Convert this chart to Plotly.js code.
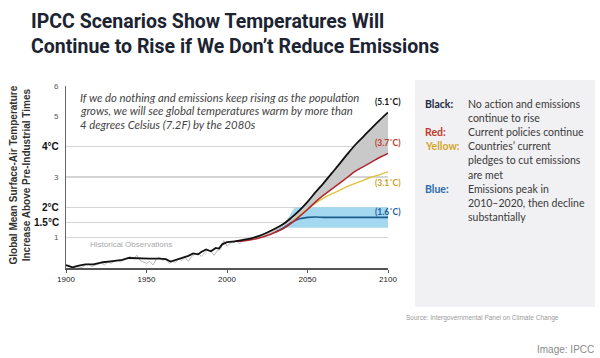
<!DOCTYPE html>
<html>
<head>
<meta charset="utf-8">
<script src="https://cdn.plot.ly/plotly-3.0.1.min.js"></script>
<style>html,body{margin:0;padding:0;background:#fff;}#chart{width:600px;height:358px;}</style>
</head>
<body>
<div id="chart"></div>
<script>
// ---- Data ----
const histYears = [1900,1904,1908,1912,1917,1923,1929,1935,1939,1945,1952,1958,1962,1965,1967,1970,1973,1976,1979,1982,1984,1987,1990,1993,1995,1997,2000,2003,2005];
const histModel = [0.10,0.02,0.08,0.12,0.12,0.19,0.23,0.27,0.33,0.31,0.31,0.31,0.29,0.21,0.24,0.31,0.33,0.40,0.48,0.45,0.53,0.61,0.55,0.66,0.64,0.78,0.85,0.88,0.88];

const obsYears = [1900,1902,1904,1906,1908,1910,1912,1914,1916,1918,1920,1922,1924,1926,1928,1930,1932,1934,1936,1938,1940,1942,1944,1946,1948,1950,1952,1954,1956,1958,1960,1962,1964,1966,1968,1970,1972,1974,1976,1978,1980,1982,1984,1986,1988,1990,1992,1994,1996,1998,2000,2002,2004,2006,2008,2010];
const obsValues = [0.05,0.10,-0.02,0.08,0.00,0.02,0.10,0.14,0.05,0.09,0.13,0.16,0.10,0.20,0.15,0.22,0.26,0.20,0.28,0.33,0.38,0.30,0.42,0.25,0.20,0.15,0.22,0.10,0.28,0.36,0.25,0.30,0.15,0.22,0.18,0.30,0.25,0.35,0.22,0.38,0.45,0.50,0.38,0.48,0.60,0.55,0.42,0.58,0.62,0.90,0.72,0.82,0.85,0.88,0.80,0.92];

const scenYears = [2005,2010,2015,2020,2025,2030,2035,2040,2045,2050,2055,2060,2065,2070,2075,2080,2085,2090,2095,2100];
const blackScen = [0.88,0.93,0.98,1.06,1.17,1.30,1.45,1.66,1.90,2.18,2.50,2.80,3.12,3.44,3.77,4.08,4.35,4.62,4.88,5.13];
const redScen   = [0.88,0.89,0.93,0.99,1.07,1.18,1.30,1.48,1.70,1.93,2.18,2.40,2.60,2.80,3.00,3.20,3.35,3.50,3.65,3.78];

const yellowYears = [2040,2045,2050,2055,2060,2065,2070,2075,2080,2085,2090,2095,2100];
const yellowScen  = [1.48,1.72,1.94,2.14,2.30,2.44,2.56,2.70,2.80,2.90,3.00,3.08,3.17];

const blueYears = [2030,2035,2040,2045,2050,2055,2060,2070,2080,2090,2100];
const blueScen  = [1.18,1.32,1.50,1.62,1.67,1.68,1.67,1.67,1.67,1.67,1.67];

const bandYears = [2034,2038,2042,2050,2100];
const bandUpper = [1.35,1.65,2.00,2.00,2.00];
const bandLower = [1.33,1.33,1.33,1.33,1.33];

const xTicks = [1900,1950,2000,2050,2100];
const yTickVals = [1,1.5,2,3,4,5,6];
const yTickText = ['1','1.5°C','2°C','3','4°C','5','6'];
const yTickBold = [false,true,true,false,true,false,false];
const gridVals = [1,1.5,2,3,4,6];

const endLabels = ['(5.1˚C)','(3.7˚C)','(3.1˚C)','(1.6˚C)'];
const endLabelY = [5.48,4.12,2.8,1.84];
const endLabelColors = ['#111111','#c0392b','#c9a227','#1f5f9a'];

const legendKeys = ['Black:','Red:','Yellow:','Blue:'];
const legendKeyRow = [0,2,3,6];
const legendKeyColors = ['#1f2a44','#c0392b','#d4a52a','#2a6cae'];
const legendLines = ['No action and emissions','continue to rise','Current policies continue','Countries\u2019 current','pledges to cut emissions','are met','Emissions peak in','2010\u20132020, then decline','substantially'];

const titleText = 'IPCC Scenarios Show Temperatures Will<br>Continue to Rise if We Don\u2019t Reduce Emissions';
const noteLines = ['If we do nothing and emissions keep rising as the population','grows, we will see global temperatures warm by more than','4 degrees Celsius (7.2F) by the 2080s'];
const yTitleText = 'Global Mean Surface-Air Temperature<br>Increase Above Pre-Industrial Times';

// ---- Geometry (pixels) ----
const W = 600, H = 358;
const L = 66, R = 388, T = 86, B = 268;
const pw = R - L, ph = B - T;
const px = x => (x - L) / pw;
const py = y => (B - y) / ph;

const traces = [
  {x: obsYears, y: obsValues, mode:'lines', line:{color:'#b8b8b8', width:1}, hoverinfo:'skip'},
  {x: bandYears, y: bandLower, mode:'lines', line:{width:0, color:'rgba(0,0,0,0)'}, hoverinfo:'skip'},
  {x: bandYears, y: bandUpper, mode:'lines', fill:'tonexty', fillcolor:'#a3d8f0', line:{width:0, color:'rgba(0,0,0,0)'}, hoverinfo:'skip'},
  {x: scenYears, y: redScen, mode:'lines', line:{width:0, color:'rgba(0,0,0,0)'}, hoverinfo:'skip'},
  {x: scenYears, y: blackScen, mode:'lines', fill:'tonexty', fillcolor:'#c9c9c9', line:{width:0, color:'rgba(0,0,0,0)'}, hoverinfo:'skip'},
  {x: blueYears, y: blueScen, mode:'lines', line:{color:'#1a5b8e', width:1.6, shape:'spline'}},
  {x: yellowYears, y: yellowScen, mode:'lines', line:{color:'#e3c23e', width:1.4, shape:'spline'}},
  {x: scenYears, y: redScen, mode:'lines', line:{color:'#b0282e', width:1.5, shape:'spline'}},
  {x: histYears, y: histModel, mode:'lines', line:{color:'#111', width:1.8}},
  {x: scenYears, y: blackScen, mode:'lines', line:{color:'#111', width:1.8, shape:'spline'}},
  {x: [1900], y: [gridVals[0]], yaxis:'y2', mode:'markers', marker:{opacity:0}, hoverinfo:'skip'}
];

const annotations = [];
// title
annotations.push({xref:'paper', yref:'paper', x: px(29), y: py(8), xanchor:'left', yanchor:'top', align:'left', showarrow:false,
  text: titleText, font:{family:'Roboto', size:19.5, color:'#1c2331', weight:700}});
// note (white backing box + lines)
noteLines.forEach((t,i)=>{
  annotations.push({xref:'paper', yref:'paper', x: px(79), y: py(97 + 13.6*i), xanchor:'left', yanchor:'middle', align:'left', showarrow:false,
    text: t, font:{family:'Lato', size:11.3, color:'#444', style:'italic'}, bgcolor:'#ffffff', borderpad:0});
});
// y axis title
annotations.push({xref:'paper', yref:'paper', x: px(19.5), y: py(175), xanchor:'center', yanchor:'middle', showarrow:false,
  textangle:-90, text: '<b>'+yTitleText+'</b>', font:{family:'Liberation Sans', size:10, color:'#333'}});
// y tick labels
yTickVals.forEach((v,i)=>{
  annotations.push({xref:'paper', yref:'y', x: px(61), y: v, xanchor:'right', yanchor:'middle', showarrow:false,
    text: yTickBold[i] ? '<b>'+yTickText[i]+'</b>' : yTickText[i],
    font: yTickBold[i] ? {family:'Liberation Sans', size:10, color:'#111'} : {family:'Liberation Sans', size:8, color:'#555'}});
});
// historical label
annotations.push({xref:'paper', yref:'paper', x: px(88), y: py(244), xanchor:'left', yanchor:'middle', showarrow:false,
  text:'Historical Observations', font:{family:'Liberation Sans', size:8, color:'#a8a8a8'}});
// end labels
endLabels.forEach((t,i)=>{
  annotations.push({xref:'x', yref:'y', x: 2100, y: endLabelY[i], xanchor:'center', yanchor:'middle', showarrow:false,
    text:'<b>'+t+'</b>', font:{family:'Lato', size:8.5, color:endLabelColors[i]}});
});
// legend box text
legendKeys.forEach((k,i)=>{
  annotations.push({xref:'paper', yref:'paper', x: px(423), y: py(104 + 14.1*legendKeyRow[i]), xanchor:'left', yanchor:'middle', showarrow:false,
    text:'<b>'+k+'</b>', font:{family:'Lato', size:10.5, color:legendKeyColors[i]}});
});
legendLines.forEach((t,i)=>{
  annotations.push({xref:'paper', yref:'paper', x: px(466), y: py(104 + 14.1*i), xanchor:'left', yanchor:'middle', showarrow:false,
    text:t, font:{family:'Lato', size:10.5, color:'#3a3a3a'}});
});
// source / credit
annotations.push({xref:'paper', yref:'paper', x: px(404), y: py(318), xanchor:'left', yanchor:'middle', showarrow:false,
  text:'Source: Intergovernmental Panel on Climate Change', font:{family:'Liberation Sans', size:6.5, color:'#9a9a9a'}});
annotations.push({xref:'paper', yref:'paper', x: px(596), y: py(349), xanchor:'right', yanchor:'middle', showarrow:false,
  text:'Image: IPCC', font:{family:'Liberation Sans', size:10, color:'#8a8a8a'}});

const shapes = [
  {type:'rect', xref:'paper', yref:'paper', x0: px(415), x1: px(595), y0: py(80), y1: py(307), fillcolor:'#f1f1f3', line:{width:0}, layer:'below'}
];

const layout = {
  width: W, height: H,
  margin: {l: L, r: W - R, t: T, b: H - B, pad: 0},
  paper_bgcolor:'#ffffff', plot_bgcolor:'rgba(0,0,0,0)',
  showlegend:false,
  xaxis: {range:[1900,2100], tickvals: xTicks, showgrid:false, zeroline:false,
    showline:true, linecolor:'#555', linewidth:1.5, ticks:'outside', ticklen:3, tickcolor:'#555',
    tickfont:{family:'Liberation Sans', size:8, color:'#222'}},
  yaxis: {range:[0,6], showgrid:false, zeroline:false, showticklabels:false,
    showline:true, linecolor:'#666', linewidth:1.5, ticks:''},
  yaxis2: {range:[0,6], overlaying:'y', tickvals: gridVals, showgrid:true, gridcolor:'#d4d4d4', gridwidth:1.3,
    showticklabels:false, zeroline:false, showline:false, ticks:'', layer:'below traces'},
  annotations, shapes
};

Plotly.newPlot('chart', traces, layout, {displayModeBar:false, staticPlot:true});
</script>
</body>
</html>
